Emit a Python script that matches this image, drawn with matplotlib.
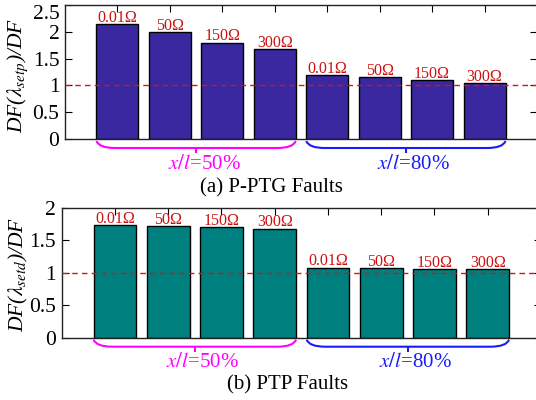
import matplotlib
matplotlib.use('Agg')
import matplotlib.pyplot as plt
from matplotlib.path import Path
from matplotlib.patches import PathPatch
import matplotlib.transforms as mtransforms
import numpy as np

plt.rcParams['font.family'] = ['Liberation Serif', 'DejaVu Serif']
plt.rcParams['mathtext.fontset'] = 'stix'

# ---- data ----
resistances = ['0.01Ω', '50Ω', '150Ω', '300Ω']
locations = ['50%', '80%']
pptg_values = [2.14, 1.99, 1.80, 1.67, 1.20, 1.15, 1.10, 1.05]
ptp_values = [1.73, 1.72, 1.70, 1.68, 1.08, 1.07, 1.06, 1.05]
threshold = 1.0
top_yticks = [0, 0.5, 1, 1.5, 2, 2.5]
bottom_yticks = [0, 0.5, 1, 1.5, 2]
top_ytick_labels = ['0', '0.5', '1', '1.5', '2', '2.5']
bottom_ytick_labels = ['0', '0.5', '1', '1.5', '2']

W, H = 536, 400
fig = plt.figure(figsize=(W / 100, H / 100), dpi=100)


def px_axes(l, t, r, b):
    return fig.add_axes([l / W, 1 - b / H, (r - l) / W, (b - t) / H])


def brace(ax, x0, x1, color, h_px):
    trans = mtransforms.blended_transform_factory(ax.transData, ax.transAxes)
    y0, y1, y2 = -2 / h_px, -9 / h_px, -14 / h_px
    dx = 0.35
    xm = (x0 + x1) / 2
    verts = [(x0, y0), (x0 + 0.05, y1), (x0 + dx, y1), (x1 - dx, y1),
             (x1 - 0.05, y1), (x1, y0)]
    codes = [Path.MOVETO, Path.CURVE3, Path.CURVE3, Path.LINETO,
             Path.CURVE3, Path.CURVE3]
    p = PathPatch(Path(verts, codes), facecolor='none', edgecolor=color,
                  lw=1.5, transform=trans, clip_on=False)
    ax.add_patch(p)
    ax.plot([xm, xm], [y1, y2], color=color, lw=1.5, transform=trans,
            clip_on=False, solid_capstyle='butt')


def panel(ax, values, color, yticks, yticklabels, ylabel_text, h_px,
          text_y, ylab_y, cap, cap_xy, top_label_inside=False):
    labels = resistances * len(locations)
    x = np.arange(1, len(values) + 1)
    ax.bar(x, values, width=0.8, color=color, edgecolor='black', lw=1.0,
           zorder=2)
    for xi, v, lab in zip(x, values, labels):
        ax.annotate(lab, (xi, v), xytext=(0, 1.5), textcoords='offset points',
                    ha='center', va='baseline', color='#cc1111',
                    fontsize=11.5)
    ax.axhline(threshold, color='#e01010', lw=1.0, ls=(0, (4, 3)), zorder=3)
    ax.set_xlim(0, 9)
    ax.set_ylim(yticks[0], yticks[-1])
    ax.set_yticks(yticks)
    ax.set_yticklabels(yticklabels)
    ax.set_xticks(x)
    ax.set_xticklabels([])
    ax.tick_params(axis='x', direction='in', top=True, bottom=False,
                   length=5)
    ax.tick_params(axis='y', direction='in', left=True, right=True,
                   length=5, labelsize=15.5, pad=4)
    if top_label_inside:
        ax.get_yticklabels()[-1].set_va('top')
    for s in ax.spines.values():
        s.set_linewidth(1.0)
        s.set_color('#222222')
    n = len(resistances)
    brace_colors = ['#ff00ff', '#1a1aff']
    trans = mtransforms.blended_transform_factory(ax.transData, ax.transAxes)
    for g, loc in enumerate(locations):
        x0 = x[g * n] - 0.4
        x1 = x[g * n + n - 1] + 0.4
        brace(ax, x0, x1, brace_colors[g], h_px)
        ax.text((x0 + x1) / 2 + 0.15, text_y, r'$x/l$=' + loc,
                color=brace_colors[g], ha='center', va='center',
                fontsize=15, transform=trans)
    fig.text(18 / W, ylab_y, ylabel_text, rotation=90, ha='center',
             va='center', fontsize=15.5, style='italic')
    fig.text(cap_xy[0] / W, 1 - cap_xy[1] / H, cap, ha='center',
             va='center', fontsize=15)


ax1 = px_axes(65, 5, 537, 139)
ax2 = px_axes(61.7, 207.7, 541, 337.7)

panel(ax1, pptg_values, '#3a28a0', top_yticks, top_ytick_labels,
      r'DF($\lambda_{setp}$)/DF', 134, -0.194, 1 - 75 / H,
      '(a) P-PTG Faults', (271, 188), top_label_inside=True)
panel(ax2, ptp_values, '#007f7f', bottom_yticks, bottom_ytick_labels,
      r'DF($\lambda_{setd}$)/DF', 130, -0.187, 1 - 274 / H,
      '(b) PTP Faults', (288, 385))

fig.savefig('out.png', dpi=100)
